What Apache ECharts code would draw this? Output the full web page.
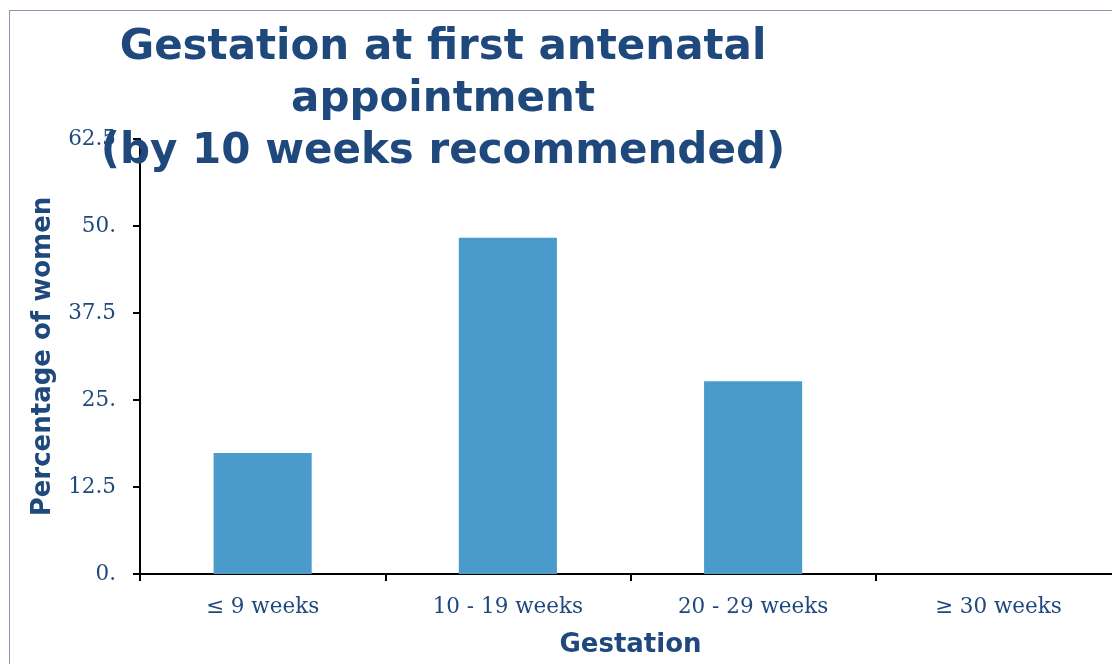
<!DOCTYPE html>
<html>
<head>
<meta charset="utf-8">
<script src="https://cdn.jsdelivr.net/npm/echarts@6/dist/echarts.min.js"></script>
<style>
  html, body { margin: 0; padding: 0; background: #fff; }
  #frame { position: absolute; left: 9px; top: 10px; width: 1200px; height: 800px; border: 1px solid #8896b4; }
  #chart { position: absolute; left: 0; top: 0; width: 1112px; height: 664px; }
</style>
</head>
<body>
<div id="frame"></div>
<div id="chart"></div>
<script>
// 数据
var categories = ['≤ 9 weeks', '10 - 19 weeks', '20 - 29 weeks', '≥ 30 weeks'];
var values = [17.4, 48.3, 27.7, 0];
var tickLabels = { 0: '0.', 12.5: '12.5', 25: '25.', 37.5: '37.5', 50: '50.', 62.5: '62.5' };

var dark = '#1f497d';

var option = {
    animation: false,
    title: {
        text: 'Gestation at first antenatal\nappointment\n(by 10 weeks recommended)',
        left: 438,
        top: 17,
        textAlign: 'center',
        textStyle: {
            fontFamily: 'DejaVu Sans',
            fontWeight: 'bold',
            fontSize: 42,
            lineHeight: 52,
            color: dark
        }
    },
    grid: {
        left: 140,
        top: 139,
        width: 981,
        height: 435,
        outerBoundsMode: 'none'
    },
    xAxis: {
        type: 'category',
        data: categories,
        name: 'Gestation',
        nameLocation: 'middle',
        nameGap: 58,
        nameTextStyle: { fontFamily: 'DejaVu Sans', fontWeight: 'bold', fontSize: 26, color: dark },
        axisLine: { lineStyle: { color: '#000', width: 2 } },
        axisTick: { show: true, length: 7, lineStyle: { color: '#000', width: 2 } },
        axisLabel: { fontFamily: 'DejaVu Serif', fontSize: 21.5, color: dark, margin: 22 }
    },
    yAxis: {
        type: 'value',
        min: 0,
        max: 62.5,
        interval: 12.5,
        name: 'Percentage of women',
        nameLocation: 'middle',
        nameGap: 84,
        nameTextStyle: { fontFamily: 'DejaVu Sans', fontWeight: 'bold', fontSize: 26, color: dark },
        axisLine: { show: true, lineStyle: { color: '#000', width: 2 } },
        axisTick: { show: true, length: 7, lineStyle: { color: '#000', width: 2 } },
        splitLine: { show: false },
        axisLabel: {
            fontFamily: 'DejaVu Serif',
            fontSize: 21.5,
            color: dark,
            margin: 24,
            formatter: function (v) { return tickLabels[v] !== undefined ? tickLabels[v] : v; }
        }
    },
    series: [
        {
            type: 'bar',
            data: values,
            barWidth: '40%',
            itemStyle: { color: '#4a9bcb' }
        }
    ]
};

var myChart = echarts.init(document.getElementById('chart'));
myChart.setOption(option);
</script>
</body>
</html>
